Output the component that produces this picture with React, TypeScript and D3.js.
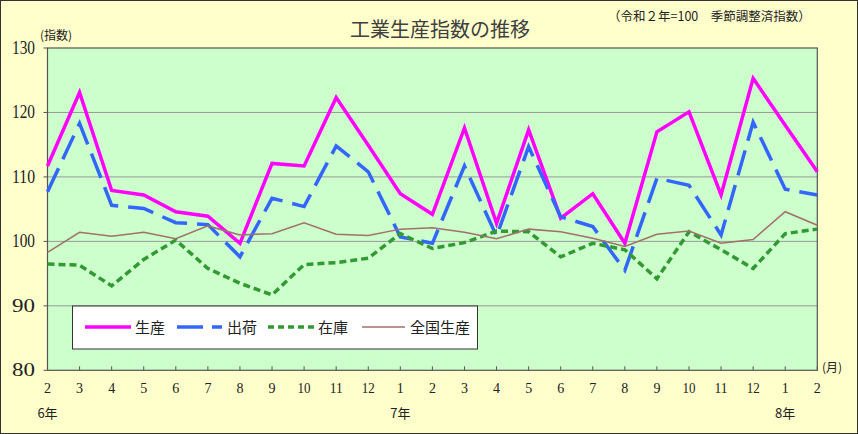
import React from "react";
import * as d3 from "d3";

// months along the x axis (R6.2 .. R8.2)
const months = ["2", "3", "4", "5", "6", "7", "8", "9", "10", "11", "12", "1", "2", "3", "4", "5", "6", "7", "8", "9", "10", "11", "12", "1", "2"];
const yearLabels = ["6年", "7年", "8年"];
const yearIndex = [0, 11, 23];

const production = [111.7, 123.1, 107.9, 107.2, 104.6, 103.9, 99.7, 112.1, 111.7, 122.3, 114.9, 107.4, 104.2, 117.6, 102.8, 117.3, 103.6, 107.4, 99.7, 117.0, 120.1, 107.2, 125.3, 118.0, 110.8];
const shipments = [107.7, 118.3, 105.6, 105.1, 102.9, 102.6, 97.6, 106.7, 105.4, 114.8, 110.8, 100.7, 99.7, 111.7, 100.8, 114.7, 103.8, 102.3, 95.5, 109.8, 108.7, 101.0, 118.5, 108.1, 107.2];
const inventory = [96.5, 96.3, 93.1, 97.2, 100.2, 95.8, 93.5, 91.7, 96.4, 96.7, 97.4, 101.2, 98.9, 99.8, 101.6, 101.5, 97.6, 99.7, 98.7, 94.2, 101.5, 98.7, 95.8, 101.2, 101.9];
const national = [98.3, 101.4, 100.8, 101.4, 100.4, 102.4, 101.0, 101.2, 102.9, 101.1, 100.9, 101.9, 102.1, 101.4, 100.4, 101.9, 101.5, 100.5, 99.2, 101.1, 101.6, 99.7, 100.3, 104.6, 102.5];

const yTicks = [80, 90, 100, 110, 120, 130];

const series = [
  { name: "生産", values: production, color: "#ff00ff", width: 3.5, dash: "" },
  { name: "出荷", values: shipments, color: "#3366ff", width: 3.5, dash: "26 10" },
  { name: "在庫", values: inventory, color: "#339933", width: 3.5, dash: "7 4" },
  { name: "全国生産", values: national, color: "#a0706a", width: 1.5, dash: "" },
];

const W = 858;
const H = 434;
const serif = "'Liberation Serif', 'DejaVu Serif', serif";
const cjk = "'Noto Sans CJK JP', sans-serif";

export default function App() {
  const left = 47.5, right = 817.3, top = 48, bottom = 370.3;

  const x = d3.scaleLinear().domain([0, months.length - 1]).range([left, right]);
  const y = d3.scaleLinear().domain([80, 130]).range([bottom, top]);

  const line = d3
    .line<number>()
    .x((_, i) => x(i))
    .y((d) => y(d));

  // legend layout
  const legend = [
    { x1: 85, x2: 131, tx: 135 },
    { x1: 177, x2: 222, tx: 227 },
    { x1: 268, x2: 315, tx: 318 },
    { x1: 362, x2: 405, tx: 410 },
  ];

  return (
    <div style={{ position: "absolute", left: 0, top: 0 }}>
      <svg width={W} height={H} style={{ display: "block" }}>
        <rect x={0.5} y={0.5} width={W - 1} height={H - 1} fill="#ffffcc" stroke="#333" />

        {/* title */}
        <text x={440} y={37} textAnchor="middle" fontFamily={cjk} fontSize={20} fill="#404040">
          工業生産指数の推移
        </text>
        <text x={608} y={21} fontFamily={cjk} fontSize={12.5} fill="#222">
          （令和２年=100　季節調整済指数）
        </text>
        <text x={40} y={40} fontFamily={cjk} fontSize={12} fill="#222">
          (指数)
        </text>

        {/* plot area */}
        <rect x={left} y={top} width={right - left} height={bottom - top} fill="#ccffcc" />
        {yTicks.filter((t) => t > 80 && t < 130).map((t) => (
          <line key={t} x1={left} x2={right} y1={y(t)} y2={y(t)} stroke="#999" strokeWidth={1} />
        ))}
        <rect x={left} y={top} width={right - left} height={bottom - top} fill="none" stroke="#555" strokeWidth={1.2} />

        {/* y axis */}
        {yTicks.map((t) => (
          <g key={t}>
            <line x1={left - 4} x2={left} y1={y(t)} y2={y(t)} stroke="#555" />
            <text x={35} y={y(t) + 6} textAnchor="end" fontFamily={serif} fontSize={18} fill="#222"
              textLength={23} lengthAdjust="spacingAndGlyphs">
              {t}
            </text>
          </g>
        ))}

        {/* x axis */}
        {months.map((m, i) => (
          <g key={i}>
            <line x1={x(i)} x2={x(i)} y1={bottom} y2={bottom - 4} stroke="#555" />
            <text x={x(i)} y={393} textAnchor="middle" fontFamily={serif} fontSize={15} fill="#222"
              textLength={m.length > 1 ? 13 : 7} lengthAdjust="spacingAndGlyphs">
              {m}
            </text>
          </g>
        ))}
        {yearLabels.map((yl, k) => (
          <text key={yl} x={x(yearIndex[k])} y={418} textAnchor="middle" fontFamily={cjk} fontSize={13} fill="#222">
            {yl}
          </text>
        ))}
        <text x={822} y={372} fontFamily={cjk} fontSize={12} fill="#222">
          (月)
        </text>

        {/* series */}
        {series.map((s) => (
          <path key={s.name} d={line(s.values) || ""} fill="none" stroke={s.color} strokeWidth={s.width}
            strokeDasharray={s.dash || undefined} strokeLinejoin="miter" />
        ))}

        {/* legend */}
        <rect x={72.5} y={306} width={405} height={43} fill="#fff" stroke="#333" />
        {series.map((s, i) => (
          <g key={s.name}>
            <line x1={legend[i].x1} x2={legend[i].x2} y1={327} y2={327} stroke={s.color} strokeWidth={s.width}
              strokeDasharray={s.dash ? (i === 1 ? "26 9" : "6 4") : undefined} />
            <text x={legend[i].tx} y={332.5} fontFamily={cjk} fontSize={15} fill="#222">
              {s.name}
            </text>
          </g>
        ))}
      </svg>
    </div>
  );
}
